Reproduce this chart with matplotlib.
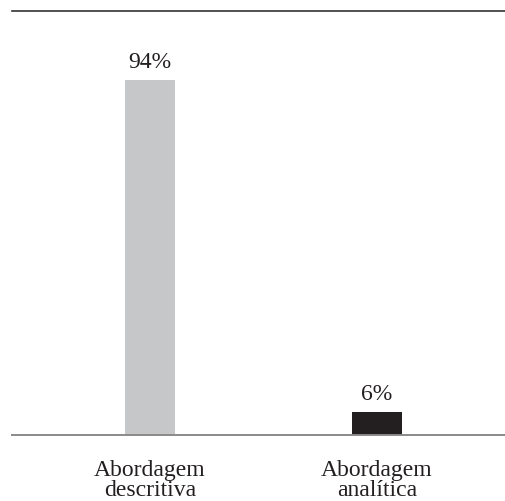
import matplotlib
matplotlib.use("Agg")
import matplotlib.pyplot as plt

categories = ["Abordagem\ndescritiva", "Abordagem\nanalítica"]
values = [94, 6]
labels = ["94%", "6%"]
colors = ["#c6c7c8", "#231f20"]

plt.rcParams['font.family'] = ['Liberation Serif', 'DejaVu Serif']

fig = plt.figure(figsize=(5.06, 5.02), dpi=100)
ax = fig.add_axes([12 / 506, 66 / 502, 494 / 506, 424 / 502])

x = list(range(len(values)))
ax.bar(x, values, width=50 / 227, color=colors)

for xi, v, lab in zip(x, values, labels):
    ax.annotate(lab, (xi, v), xytext=(0, 6), textcoords="offset points",
                ha="center", va="bottom", fontsize=17, color="#231f20")

ax.set_xlim(-138 / 227, 1 + 129 / 227)
ax.set_ylim(0, 94 * 424 / 355)

ax.set_xticks(x)
ax.set_xticklabels(categories, fontsize=17, color="#231f20", linespacing=0.95)
ax.tick_params(axis="x", length=0, pad=17)
ax.set_yticks([])

for side in ["left", "right"]:
    ax.spines[side].set_visible(False)
ax.spines["top"].set_color("#333333")
ax.spines["bottom"].set_color("#8a8a8a")
ax.spines["top"].set_linewidth(1.2)
ax.spines["bottom"].set_linewidth(1.4)

fig.savefig("out.png", dpi=100)
